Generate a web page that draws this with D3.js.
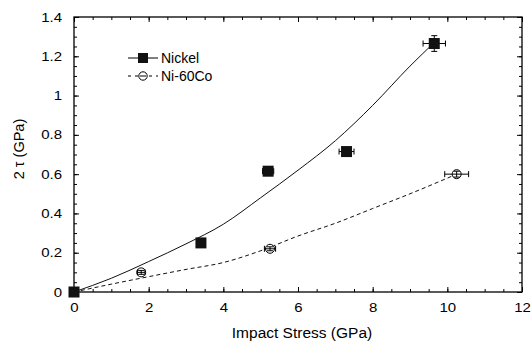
<!DOCTYPE html>
<html>
<head>
<meta charset="utf-8">
<script src="https://cdn.jsdelivr.net/npm/d3@7"></script>
<style>
  body { margin: 0; background: #fff; }
  svg { display: block; font-family: "Liberation Sans", Arial, sans-serif; }
  .axis path { display: none; }
  .axis line { stroke: #000; }
  .axis text { font-size: 12.5px; fill: #000; }
</style>
</head>
<body>
<svg id="chart" width="531" height="345"></svg>
<script>
// measured points
const nickelX = [0, 3.4, 5.2, 7.3, 9.65];
const nickelY = [0, 0.25, 0.615, 0.715, 1.265];
const nickelXErr = [0, 0, 0.15, 0.2, 0.3];
const nickelYErr = [0, 0, 0.02, 0.015, 0.04];

const cobaltX = [1.8, 5.25, 10.25];
const cobaltY = [0.1, 0.22, 0.6];
const cobaltXErr = [0.1, 0.15, 0.32];
const cobaltYErr = [0.01, 0.01, 0.015];

// fitted curves
const nickelFitX = [0, 1, 2, 3, 4, 5, 6, 7, 8, 9, 9.65];
const nickelFitY = [0, 0.07, 0.155, 0.245, 0.345, 0.48, 0.62, 0.77, 0.95, 1.15, 1.27];
const cobaltFitX = [0, 1, 2, 3, 4, 5, 6, 7, 8, 9, 10.25];
const cobaltFitY = [0, 0.04, 0.078, 0.115, 0.15, 0.21, 0.285, 0.35, 0.425, 0.5, 0.6];

const xTicks = [0, 2, 4, 6, 8, 10, 12];
const yTicks = [0, 0.2, 0.4, 0.6, 0.8, 1, 1.2, 1.4];

const width = 531, height = 345;
const margin = { top: 17, right: 9, bottom: 53, left: 74 };
const w = width - margin.left - margin.right;
const h = height - margin.top - margin.bottom;

const svg = d3.select('#chart');
const g = svg.append('g').attr('transform', `translate(${margin.left},${margin.top})`);

const x = d3.scaleLinear().domain([0, 12]).range([0, w]);
const y = d3.scaleLinear().domain([0, 1.4]).range([h, 0]);

const xMinor = d3.range(0, 12.01, 0.5);
const yMinor = d3.range(0, 1.401, 0.05);

// major ticks with labels (labels a bit wide, like the original)
g.append('g').attr('class', 'axis').attr('transform', `translate(0,${h})`)
  .call(d3.axisBottom(x).tickValues(xTicks).tickSize(-5).tickPadding(11).tickFormat(d3.format('d')))
  .selectAll('text').attr('transform', 'scale(1.2,1)');
g.append('g').attr('class', 'axis')
  .call(d3.axisLeft(y).tickValues(yTicks).tickSize(-5).tickPadding(10)
    .tickFormat(d => d === 0 || d === 1 ? d3.format('d')(d) : d3.format('.1f')(d)))
  .selectAll('text').attr('transform', 'scale(1.2,1)');

// minor ticks, and ticks on top/right
g.append('g').attr('class', 'axis').attr('transform', `translate(0,${h})`)
  .call(d3.axisBottom(x).tickValues(xMinor).tickSize(-3).tickFormat(''));
g.append('g').attr('class', 'axis')
  .call(d3.axisLeft(y).tickValues(yMinor).tickSize(-3).tickFormat(''));
g.append('g').attr('class', 'axis')
  .call(d3.axisTop(x).tickValues(xTicks).tickSize(-5).tickFormat(''));
g.append('g').attr('class', 'axis')
  .call(d3.axisTop(x).tickValues(xMinor).tickSize(-3).tickFormat(''));
g.append('g').attr('class', 'axis').attr('transform', `translate(${w},0)`)
  .call(d3.axisRight(y).tickValues(yTicks).tickSize(-5).tickFormat(''));
g.append('g').attr('class', 'axis').attr('transform', `translate(${w},0)`)
  .call(d3.axisRight(y).tickValues(yMinor).tickSize(-3).tickFormat(''));

// frame
g.append('rect').attr('width', w).attr('height', h)
  .attr('fill', 'none').attr('stroke', '#000').attr('stroke-width', 1.3);

// fit lines
const line = d3.line().x(d => x(d[0])).y(d => y(d[1])).curve(d3.curveMonotoneX);
g.append('path').datum(d3.zip(nickelFitX, nickelFitY))
  .attr('d', line).attr('fill', 'none').attr('stroke', '#111').attr('stroke-width', 1);
g.append('path').datum(d3.zip(cobaltFitX, cobaltFitY))
  .attr('d', line).attr('fill', 'none').attr('stroke', '#111').attr('stroke-width', 1)
  .attr('stroke-dasharray', '4,3');

// error bars
function errorBars(xs, ys, xe, ye) {
  const eg = g.append('g').attr('stroke', '#000').attr('stroke-width', 1);
  xs.forEach((xv, i) => {
    const cx = x(xv), cy = y(ys[i]);
    if (xe[i] > 0) {
      const x0 = x(xv - xe[i]), x1 = x(xv + xe[i]);
      eg.append('line').attr('x1', x0).attr('x2', x1).attr('y1', cy).attr('y2', cy);
      eg.append('line').attr('x1', x0).attr('x2', x0).attr('y1', cy - 3).attr('y2', cy + 3);
      eg.append('line').attr('x1', x1).attr('x2', x1).attr('y1', cy - 3).attr('y2', cy + 3);
    }
    if (ye[i] > 0) {
      const y0 = y(ys[i] - ye[i]), y1 = y(ys[i] + ye[i]);
      eg.append('line').attr('x1', cx).attr('x2', cx).attr('y1', y0).attr('y2', y1);
      eg.append('line').attr('x1', cx - 3).attr('x2', cx + 3).attr('y1', y0).attr('y2', y0);
      eg.append('line').attr('x1', cx - 3).attr('x2', cx + 3).attr('y1', y1).attr('y2', y1);
    }
  });
}

errorBars(nickelX, nickelY, nickelXErr, nickelYErr);

// Nickel squares
g.selectAll('.sq').data(d3.zip(nickelX, nickelY)).enter().append('rect')
  .attr('class', 'sq')
  .attr('x', d => x(d[0]) - 5.5).attr('y', d => y(d[1]) - 5.5)
  .attr('width', 11).attr('height', 11).attr('fill', '#111');

// Ni-60Co circles
g.selectAll('.circ').data(d3.zip(cobaltX, cobaltY)).enter().append('circle')
  .attr('class', 'circ')
  .attr('cx', d => x(d[0])).attr('cy', d => y(d[1])).attr('r', 4.5)
  .attr('fill', '#fff').attr('stroke', '#000').attr('stroke-width', 1);
errorBars(cobaltX, cobaltY, cobaltXErr, cobaltYErr);

// legend
const lg = svg.append('g');
lg.append('line').attr('x1', 128).attr('x2', 158).attr('y1', 58).attr('y2', 58)
  .attr('stroke', '#000');
lg.append('rect').attr('x', 138).attr('y', 53).attr('width', 10).attr('height', 10).attr('fill', '#111');
lg.append('text').attr('x', 161).attr('y', 58).attr('dy', '0.35em')
  .attr('font-size', 14).text('Nickel');
lg.append('line').attr('x1', 128).attr('x2', 158).attr('y1', 76).attr('y2', 76)
  .attr('stroke', '#000').attr('stroke-dasharray', '3,4');
lg.append('circle').attr('cx', 143).attr('cy', 76).attr('r', 4.2)
  .attr('fill', '#fff').attr('stroke', '#000');
lg.append('line').attr('x1', 140).attr('x2', 146).attr('y1', 76).attr('y2', 76).attr('stroke', '#000');
lg.append('text').attr('x', 161).attr('y', 76).attr('dy', '0.35em')
  .attr('font-size', 14).text('Ni-60Co');

// axis titles
svg.append('text').attr('x', 302).attr('y', 338)
  .attr('text-anchor', 'middle').attr('font-size', 15.5).text('Impact Stress (GPa)');
svg.append('text').attr('transform', 'translate(24,149) rotate(-90)')
  .attr('text-anchor', 'middle').attr('font-size', 14.5).text('2 τ (GPa)');
</script>
</body>
</html>
